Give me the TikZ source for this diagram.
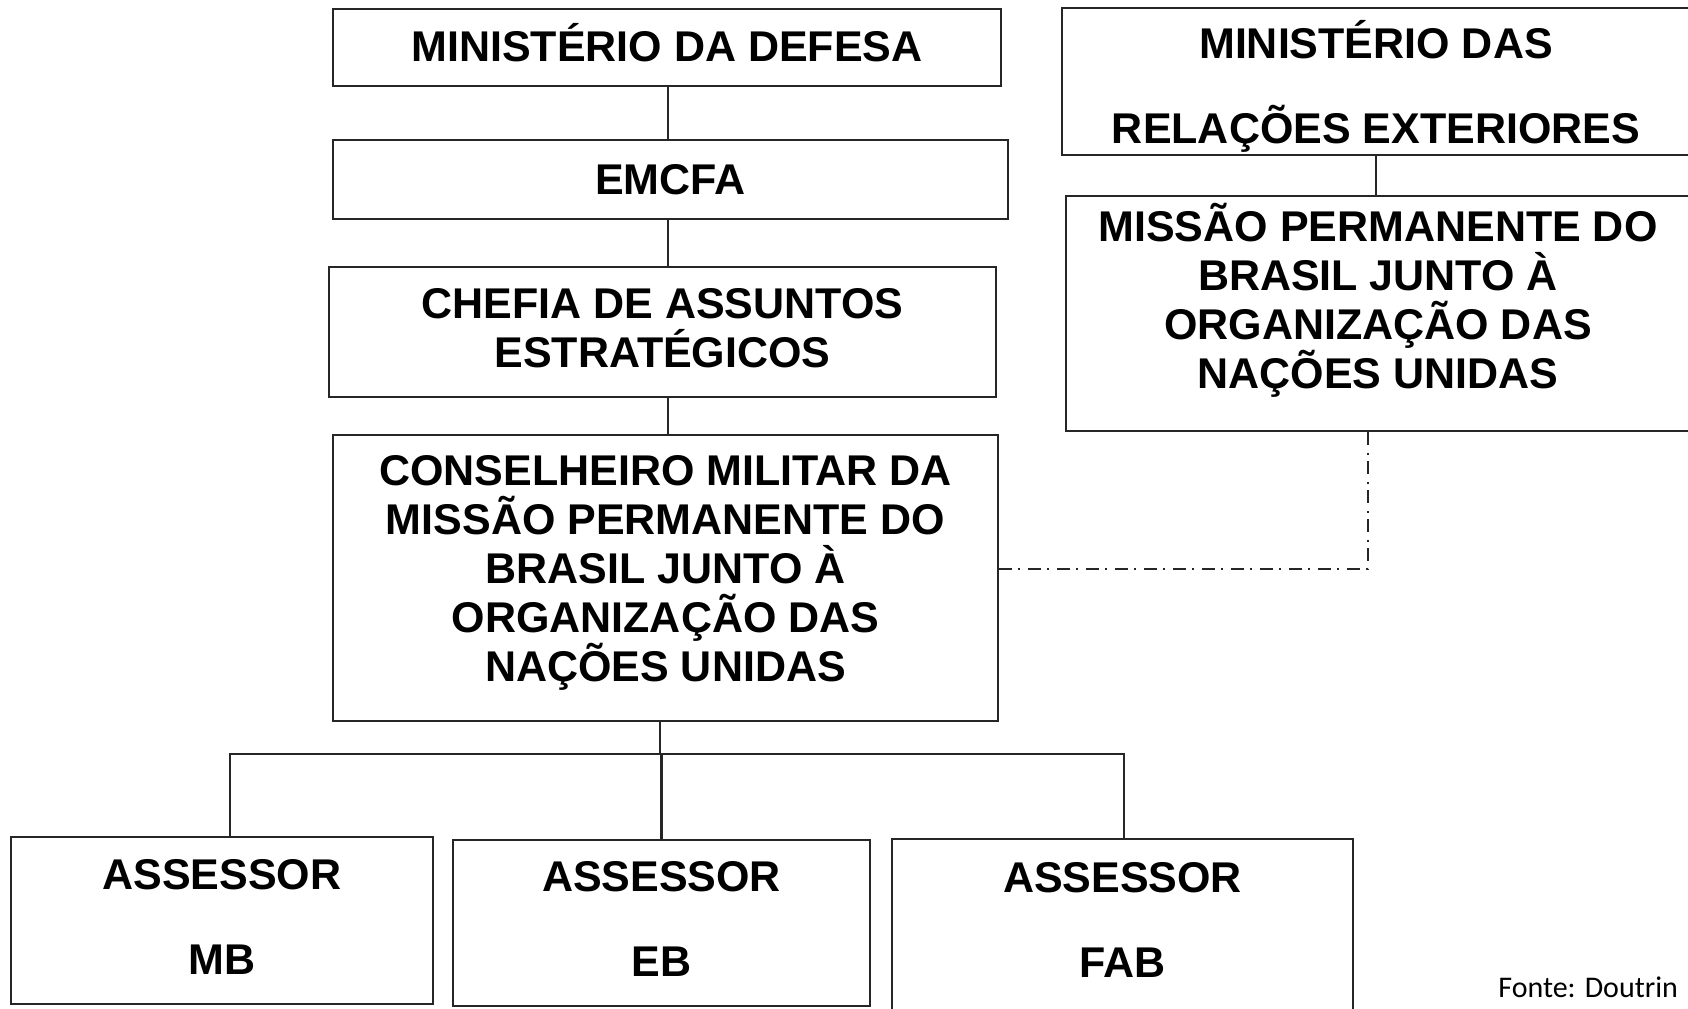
\documentclass[tikz,border=0pt]{standalone}
\usepackage{fontspec}
\setmainfont{Liberation Sans}
\newfontfamily\fontefont{Carlito}
\begin{document}
\begin{tikzpicture}[x=0.5pt,y=-0.5pt,
  orgbox/.style={draw=black!85, line width=1.4pt, rectangle, inner sep=0pt},
  orgtext/.style={inner sep=0pt, align=center, font=\bfseries\fontsize{21.5}{24.5}\selectfont},
  twoline/.style={inner sep=0pt, align=center, font=\bfseries\fontsize{21.5}{42.5}\selectfont},
  conn/.style={draw=black!85, line width=1.1pt},
  dashdotline/.style={draw=black!85, line width=1.3pt, dash pattern=on 6.5pt off 3pt on 1pt off 4pt}]
\useasboundingbox (0,0) rectangle (1688,1008);
\clip (0,0) rectangle (1688,1008);

% left column boxes
\node[orgbox, minimum width=334pt, minimum height=38.5pt] (md) at (667,47.5) {};
\node[orgbox, minimum width=337.5pt, minimum height=39.5pt] (emcfa) at (670.5,179.5) {};
\node[orgbox, minimum width=333.5pt, minimum height=65pt] (chefia) at (662.5,332) {};
\node[orgbox, minimum width=332.5pt, minimum height=143pt] (cons) at (665.5,578) {};
% right column boxes
\node[orgbox, minimum width=314pt, minimum height=73.5pt] (mre) at (1376,81.5) {};
\node[orgbox, minimum width=312pt, minimum height=117.5pt] (missao) at (1378,313.5) {};
% assessor boxes
\node[orgbox, minimum width=211pt, minimum height=83.5pt] (mb) at (222,920.5) {};
\node[orgbox, minimum width=208.5pt, minimum height=83pt] (eb) at (661.5,923) {};
\node[orgbox, minimum width=230.5pt, minimum height=91pt] (fab) at (1122.5,930) {};

% texts
\node[orgtext] (mdtxt) at (667,42.5) {MINISTÉRIO DA DEFESA};
\node[orgtext] (emcfatxt) at (670.5,179.5) {EMCFA};
\node[orgtext] (chefiatxt) at (662.5,328) {CHEFIA DE ASSUNTOS\\ESTRATÉGICOS};
\node[orgtext] (constxt) at (665.5,572.5) {CONSELHEIRO MILITAR DA\\MISSÃO PERMANENTE DO\\BRASIL JUNTO À\\ORGANIZAÇÃO DAS\\NAÇÕES UNIDAS};
\node[twoline] (mretxt) at (1376,86.5) {MINISTÉRIO DAS\\RELAÇÕES EXTERIORES};
\node[orgtext] (missaotxt) at (1378,300.5) {MISSÃO PERMANENTE DO\\BRASIL JUNTO À\\ORGANIZAÇÃO DAS\\NAÇÕES UNIDAS};
\node[twoline] (mbtxt) at (222,916.5) {ASSESSOR\\MB};
\node[twoline] (ebtxt) at (661.5,919) {ASSESSOR\\EB};
\node[twoline] (fabtxt) at (1122.5,920) {ASSESSOR\\FAB};

% connectors
\coordinate (vx) at (668,0);
\draw[conn] (md.south -| vx) -- (emcfa.north -| vx);
\draw[conn] (emcfa.south -| vx) -- (chefia.north -| vx);
\draw[conn] (chefia.south -| vx) -- (cons.north -| vx);

\coordinate (jbar) at (660,754);
\coordinate (bl) at (230,754);
\coordinate (br) at (1124,754);
\draw[conn] (cons.south -| jbar) -- (jbar);
\draw[conn] (mb.north -| bl) -- (bl) -- (br) -- (fab.north -| br);
\draw[conn] (eb.north) -- (eb.north |- jbar);

\draw[conn] (mre.south) -- (mre.south |- missao.north);

\coordinate (dd) at (1368,569);
\draw[dashdotline] (cons.east |- dd) -- (dd) -- (dd |- missao.south);

% source
\node[anchor=base west, inner sep=0pt, font=\fontefont\fontsize{15}{18}\selectfont] (fonte) at (1498,997) {Fonte: Doutrin};
\end{tikzpicture}
\end{document}
